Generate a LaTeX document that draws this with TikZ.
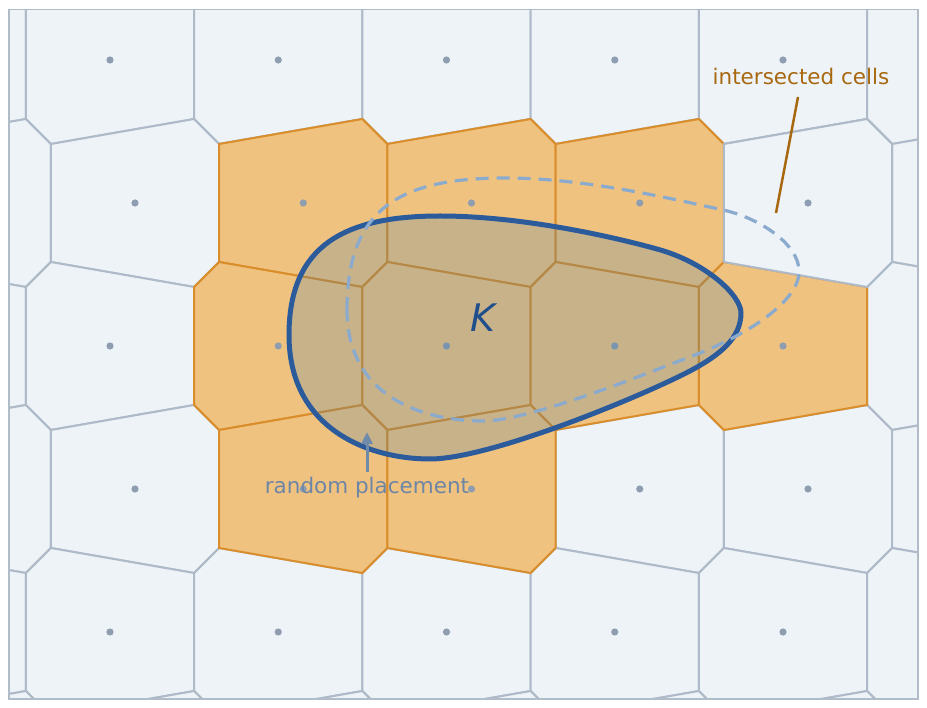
\documentclass[tikz,border=0pt]{standalone}
\usepackage{fontspec}
\setmainfont{DejaVu Sans}
\usetikzlibrary{arrows.meta}
\definecolor{cellfill}{RGB}{238,243,248}
\definecolor{celledge}{RGB}{174,186,200}
\definecolor{hitfill}{RGB}{240,194,128}
\definecolor{hitedge}{RGB}{217,142,43}
\definecolor{sitecol}{RGB}{142,158,176}
\definecolor{kline}{RGB}{43,91,155}
\definecolor{kfill}{RGB}{40,114,178}
\definecolor{ktext}{RGB}{31,78,140}
\definecolor{dashcol}{RGB}{138,170,206}
\definecolor{labelorange}{RGB}{168,104,16}
\definecolor{labelblue}{RGB}{110,134,165}
\definecolor{arrowblue}{RGB}{112,138,170}
\definecolor{framecol}{RGB}{176,188,200}
\tikzset{
  ecell/.pic={\path[pic actions] (-84.125,-59) -- (-59.1,-84) -- (84.125,-59) -- (84.125,59) -- (-59.1,84) -- (-84.125,59) -- cycle;},
  ocell/.pic={\path[pic actions] (84.125,-59) -- (59.1,-84) -- (-84.125,-59) -- (-84.125,59) -- (59.1,84) -- (84.125,59) -- cycle;},
  plaincell/.style={fill=cellfill, draw=celledge, line width=2pt, line join=miter},
  hitcell/.style={fill=hitfill, draw=hitedge, line width=2pt, line join=miter},
  sitedot/.style={fill=sitecol, draw=none},
  lab/.style={font=\fontsize{21.5}{25}\selectfont, inner sep=0pt, anchor=base},
}
\newcommand{\Kpath}{(289,335) .. controls (289,245) and (345,216) .. (440,216)
  .. controls (520,216) and (610,236) .. (657,249)
  .. controls (705,262) and (741,295) .. (741,313)
  .. controls (741,338) and (720,355) .. (690,371)
  .. controls (640,397) and (490,459) .. (430,459)
  .. controls (370,459) and (289,430) .. (289,335) -- cycle}
\newcommand{\Dpath}{(347,310) .. controls (347,208) and (400,178) .. (505,178)
  .. controls (580,178) and (660,196) .. (723,210)
  .. controls (760,218) and (800,245) .. (799,272)
  .. controls (799,300) and (750,335) .. (687,358)
  .. controls (650,372) and (530,421) .. (483,421)
  .. controls (420,421) and (347,395) .. (347,310) -- cycle}
\begin{document}
\begin{tikzpicture}[x=1pt,y=-1pt]
\useasboundingbox (0,0) rectangle (927,708);
\fill[white] (0,0) rectangle (927,708);
\begin{scope}
\clip (9,9.5) rectangle (918,699);
\fill[cellfill] (9,9.5) rectangle (918,699);
% all cells
\foreach \j in {-1,...,5}{
  \pgfmathsetmacro\yy{60+143*\j}
  \pgfmathtruncatemacro\rowpar{mod(\j+2,2)}
  \foreach \k in {-1,...,5}{
    \ifnum\rowpar=0
      \pgfmathsetmacro\xx{110+168.25*\k}
      \pic[plaincell] at (\xx,\yy) {ecell};
    \else
      \pgfmathsetmacro\xx{135+168.25*\k}
      \pic[plaincell] at (\xx,\yy) {ocell};
    \fi
  }
}
% intersected cells
\foreach \xx in {303.25,471.5,639.75}{\pic[hitcell] at (\xx,203) {ocell};}
\foreach \xx in {278.25,446.5,614.75,783}{\pic[hitcell] at (\xx,346) {ecell};}
\foreach \xx in {303.25,471.5}{\pic[hitcell] at (\xx,489) {ocell};}
\pic[plaincell] at (808,203) {ocell};
% sites
\foreach \j in {-1,...,5}{
  \pgfmathsetmacro\yy{60+143*\j}
  \pgfmathtruncatemacro\rowpar{mod(\j+2,2)}
  \foreach \k in {-1,...,5}{
    \ifnum\rowpar=0
      \pgfmathsetmacro\xx{110+168.25*\k}
    \else
      \pgfmathsetmacro\xx{135+168.25*\k}
    \fi
    \fill[sitedot] (\xx,\yy) circle[radius=3.6];
  }
}
\end{scope}
\draw[framecol, line width=1.5pt] (9,9.5) rectangle (918,699);
% the body K
\path[fill=kfill, fill opacity=0.2] \Kpath;
\draw[kline, line width=5pt] \Kpath;
% random placement (dashed)
\draw[dashcol, line width=3.2pt, dash pattern=on 13pt off 8pt] \Dpath;
\node[text=ktext, font=\fontsize{38}{44}\selectfont\itshape, inner sep=0pt] (K) at (483,318) {K};
% labels
\node[lab, text=labelorange] (lab1) at (801,85) {intersected cells};
\coordinate (p1) at (776,213);
\draw[labelorange, line width=2.5pt] ([shift={(-3,12)}]lab1.base) -- (p1);
\node[lab, text=labelblue] (lab2) at (367,494) {random placement};
\coordinate (tip) at (367,432);
\draw[arrowblue, line width=3pt, -{Triangle[length=12pt,width=11pt]}] ([shift={(0,-22)}]lab2.base) -- (tip);
\end{tikzpicture}
\end{document}
